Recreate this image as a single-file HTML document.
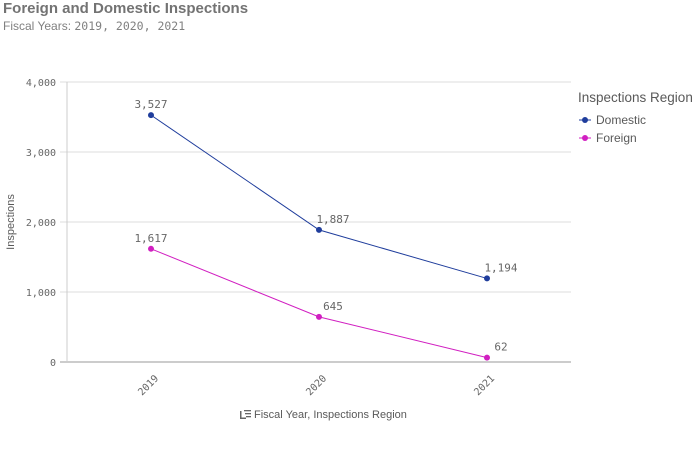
<!DOCTYPE html>
<html><head><meta charset="utf-8"><style>
body{margin:0;width:700px;height:466px;background:#fff;font-family:"Liberation Sans",sans-serif;overflow:hidden}
.mono{font-family:"DejaVu Sans Mono","Liberation Mono",monospace}
</style></head><body>
<div style="position:absolute;left:3px;top:0px;font-size:15px;font-weight:bold;color:#737373">Foreign and Domestic Inspections</div>
<div style="position:absolute;left:3px;top:19px;font-size:12px;color:#808080">Fiscal Years: <span class="mono" style="font-size:11.5px">2019, 2020, 2021</span></div>
<svg id="chart" width="700" height="466" style="position:absolute;left:0;top:0">
<g id="grid"></g><g id="marks"></g>
<text transform="translate(14,222) rotate(-90)" text-anchor="middle" font-size="11" fill="#595959">Inspections</text>
<text x="254" y="418" font-size="11" fill="#595959">Fiscal Year, Inspections Region</text>
<g fill="#666"><rect x="240" y="411" width="1.5" height="8"/><rect x="240" y="417.5" width="6" height="1.5"/><rect x="244" y="410" width="7" height="1.3"/><rect x="245" y="413" width="6" height="1.3"/><rect x="246" y="416" width="5" height="1.3"/></g>
<text x="578" y="102" font-size="13.5" fill="#595959">Inspections Region</text>
<g><line x1="579" y1="120" x2="591" y2="120" stroke="#1f3d9c" stroke-width="1"/><circle cx="585" cy="120" r="3" fill="#1f3d9c"/><text x="596" y="124" font-size="12" fill="#595959">Domestic</text></g>
<g><line x1="579" y1="138" x2="591" y2="138" stroke="#d11fc1" stroke-width="1"/><circle cx="585" cy="138" r="3" fill="#d11fc1"/><text x="596" y="142" font-size="12" fill="#595959">Foreign</text></g>
</svg>
<script>
const categories=["2019","2020","2021"];
const domestic=[3527,1887,1194];
const foreign=[1617,645,62];
const yTicks=[0,1000,2000,3000,4000];
const yTickLabels=["0","1,000","2,000","3,000","4,000"];
const NS="http://www.w3.org/2000/svg";
const L=67,R=571,T=82,B=362,YMAX=4000;
const y=v=>B-(v/YMAX)*(B-T);
const x=i=>L+(R-L)/categories.length*(i+0.5);
const grid=document.getElementById('grid'),marks=document.getElementById('marks');
function mk(tag,a,p){const e=document.createElementNS(NS,tag);for(const k in a)e.setAttribute(k,a[k]);p.appendChild(e);return e;}
yTicks.forEach((t,i)=>{
 const g=mk('line',{x1:60,x2:R,y1:y(t),y2:y(t),stroke:t===0?'#999':'#ddd','stroke-width':1},grid);
 
 
 const tx=mk('text',{x:56,y:y(t)+4,'text-anchor':'end','font-size':10,fill:'#666',class:'mono'},grid);
 tx.textContent=yTickLabels[i];
 
 
});
const ax=mk('line',{x1:L,x2:L,y1:T,y2:B,stroke:'#ccc'},grid);


categories.forEach((c,i)=>{
 const tx=mk('text',{x:x(i)+8,y:B+17,'text-anchor':'end','font-size':10,fill:'#666',class:'mono',transform:`rotate(-45 ${x(i)+8} ${B+17})`},grid);
 tx.textContent=c;
 
 
});
function series(data,color,name){
 const pl=mk('polyline',{points:data.map((v,i)=>x(i)+','+y(v)).join(' '),fill:'none',stroke:color,'stroke-width':1},marks);
 
 
 data.forEach((v,i)=>{
  const c=mk('circle',{cx:x(i),cy:y(v),r:3,fill:color},marks);
  
  
  const t=mk('text',{x:x(i)+(i===0?0:14),y:y(v)-7,'text-anchor':'middle','font-size':11,fill:'#666',class:'mono'},marks);
  t.textContent=v.toLocaleString('en-US');
  
  
 });
}
series(domestic,'#1f3d9c','domestic');
series(foreign,'#d11fc1','foreign');
</script>
</body></html>
